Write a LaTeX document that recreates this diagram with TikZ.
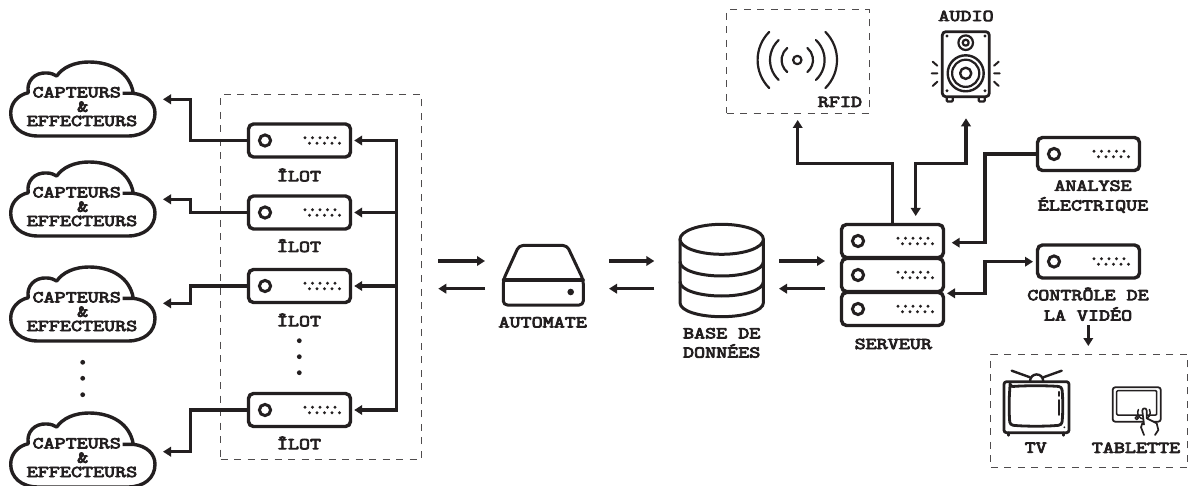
\documentclass[tikz,border=0pt]{standalone}
\usepackage{fontspec}
\usetikzlibrary{arrows.meta}
\newfontfamily\labfont[FakeStretch=1.3,FakeBold=5]{Latin Modern Mono}
\definecolor{ink}{HTML}{231F20}
\tikzset{
  x=1pt,y=-1pt,
  every path/.style={color=ink},
  devbox/.style={draw=ink,fill=white,line width=3.4pt,rounded corners=5pt,minimum width=102pt,minimum height=33pt,inner sep=0pt},
  icon/.style={draw=ink,line width=2.4pt,line join=round,line cap=round},
  thin icon/.style={draw=ink,line width=1.8pt,line join=round,line cap=round},
  wire/.style={draw=ink,line width=3.2pt,line join=miter},
  tip/.tip={Triangle[length=8pt,width=9.5pt]},
  dashbox/.style={draw=ink!80,line width=1pt,dash pattern=on 7pt off 6.5pt},
  lab/.style={text=ink,font=\labfont\fontsize{16.5}{18}\selectfont,inner sep=0pt,align=center},
  cloudtext/.style={lab,fill=white,inner sep=0.5pt},
  dotmark/.style={circle,fill=ink,draw=none,inner sep=0pt,minimum size=4.8pt}
}
\newcommand\device[3]{%
  \node[devbox] (#1) at (#2,#3) {};
  \begin{scope}[shift={(#2,#3)}]
    \draw[line width=3pt,fill=white] (-34.5,0) circle (5.6);
    \foreach \dx in {5.5,13,20.5,28,35.5}{\fill (\dx,-2.8) circle (1.6);}
    \foreach \dx in {10,17.5,25,32.5,40}{\fill (\dx,2.8) circle (1.6);}
  \end{scope}}
\newcommand\cloudshape[4]{%
  \begin{scope}[yshift=#1pt]
    \draw[line width=3.4pt,line join=round,fill=white]
      (122.7,193.3) -- (133.3,193.3) .. controls (147,195) and (155,203) .. (155,213.3)
      .. controls (155,227) and (144,236) .. (128,236) -- (38,236)
      .. controls (21,236) and (10.7,226) .. (10.7,213.3)
      .. controls (10.7,203) and (18,195) .. (28.3,192.7)
      .. controls (26,181) and (35,172) .. (47,173)
      .. controls (51,173) and (54,174.5) .. (56.7,176)
      .. controls (63,167) and (75,162) .. (89,162)
      .. controls (112,162) and (130,173) .. (133.3,193.3);
    \node[cloudtext] (#2) at (76.7,192.3) {CAPTEURS};
    \node[lab] (#3) at (82.7,206.7) {\&};
    \node[lab] (#4) at (82,221) {EFFECTEURS};
  \end{scope}}
\begin{document}
\begin{tikzpicture}
\useasboundingbox (0,0) rectangle (1188,486);
% dashed frames
\node[dashbox,minimum width=201pt,minimum height=364pt,inner sep=0pt] (frameA) at (321,277) {};
\node[dashbox,minimum width=142.5pt,minimum height=103.5pt,inner sep=0pt] (frameB) at (797.8,61.7) {};
\node[dashbox,minimum width=196.5pt,minimum height=113.5pt,inner sep=0pt] (frameC) at (1089.2,411) {};
% clouds
\cloudshape{100}{ca}{cb}{cc}
\cloudshape{0}{da}{db}{dc}
\cloudshape{-105}{ea}{eb}{ec}
\cloudshape{-251}{fa}{fb}{fc}
% islands
\device{i1}{299.5}{140.5}
\device{i2}{299.5}{212.5}
\device{i3}{299.5}{286}
\device{i4}{299.5}{410}
\node[lab] (l1) at (299,175) {ÎLOT};
\node[lab] (l2) at (299,245.7) {ÎLOT};
\node[lab] (l3) at (299,320) {ÎLOT};
\node[lab] (l4) at (299,443) {ÎLOT};
% dots
\foreach \n/\y in {a/362.3,b/378.3,c/394.7}{\node[dotmark] (cd\n) at (82.7,\y) {};}
\foreach \n/\y in {a/340.7,b/356.7,c/372.7}{\node[dotmark] (id\n) at (299.3,\y) {};}
% island to cloud arrows
\coordinate (t1) at (163,99.3);
\coordinate (t2) at (163,199.3);
\coordinate (t3) at (163,303.3);
\coordinate (t4) at (163,451.7);
\coordinate (b0) at (396.7,140.5);
\coordinate (b1) at (396.7,410);
\foreach \i in {1,2,3,4}{
  \draw[wire,-{tip}] (i\i.west) -- (190.7,0|-i\i.west) -- (190.7,0|-t\i) -- (t\i);
}
% bus
\draw[wire,line cap=rect] (b0) -- (b1);
\foreach \i in {1,2,3,4}{
  \draw[wire,-{tip}] (396.7,0|-i\i.east) -- ([xshift=2pt]i\i.east);
}
% central arrows
\foreach \n/\xa/\xb in {p/438.3/485,q/609/654.3,r/779/825}{
  \coordinate (\n a) at (\xa,261); \coordinate (\n b) at (\xb,261);
  \coordinate (\n c) at (\xb,288.7); \coordinate (\n d) at (\xa,288.7);
  \draw[wire,-{tip}] (\n a) -- (\n b);
  \draw[wire,-{tip}] (\n c) -- (\n d);
}
% automate
\draw[icon,line width=3pt,fill=white,rounded corners=4pt] (503.3,280) -- (519,245.5) -- (567,245.5) -- (583.3,280) -- (583.3,305) -- (503.3,305) -- cycle;
\draw[icon,line width=3pt] (503.3,280) -- (583.3,280);
\node[dotmark,minimum size=6.6pt] (autodot) at (570.7,292) {};
\node[lab] (autolab) at (542.7,322.3) {AUTOMATE};
% database
\draw[icon,line width=3pt,fill=white] (680,239.3) -- (680,302.7) .. controls (680,311) and (699,316.7) .. (721.7,316.7) .. controls (744,316.7) and (763.4,311) .. (763.4,302.7) -- (763.4,239.3);
\draw[icon,line width=3pt,fill=white] (721.7,239.3) ellipse (41.7 and 15);
\draw[icon,line width=3pt] (680,261.7) .. controls (680,270) and (699,276) .. (721.7,276) .. controls (744,276) and (763.4,270) .. (763.4,261.7);
\draw[icon,line width=3pt] (680,281.7) .. controls (680,290) and (699,296) .. (721.7,296) .. controls (744,296) and (763.4,290) .. (763.4,281.7);
\node[lab] (dba) at (721.7,333.3) {BASE DE};
\node[lab] (dbb) at (721.7,351) {DONNÉES};
% server
\device{s3}{892.5}{309}
\device{s2}{892.5}{275}
\device{s1}{892.5}{241}
\node[lab] (slab) at (893.3,344) {SERVEUR};
% right devices
\device{an}{1088.5}{154}
\device{vi}{1088.5}{261.5}
\node[lab] (ana) at (1093,185.7) {ANALYSE};
\node[lab] (anb) at (1093,205) {ÉLECTRIQUE};
\node[lab] (via) at (1088,294) {CONTRÔLE DE};
\node[lab] (vib) at (1088,314) {LA VIDÉO};
% connectors right
\coordinate (rfidin) at (797.7,120);
\coordinate (audioout) at (966,118.3);
\coordinate (srvin) at (915.7,216);
\coordinate (anin) at (951.7,242.7);
\coordinate (viin) at (947,293.3);
\coordinate (viout) at (1033,261.7);
\coordinate (tvtop) at (1088.3,325);
\coordinate (tvin) at (1088.3,346);
\draw[wire,-{tip}] (s1.north) -- (892.5,163.3) -- (797.7,163.3) -- (rfidin);
\draw[wire,{tip}-{tip}] (srvin) -- (915.7,163.3) -- (966,163.3) -- (audioout);
\draw[wire,-{tip}] (an.west) -- (985,154) -- (985,242.7) -- (anin);
\draw[wire,{tip}-{tip}] (viin) -- (985,293.3) -- (985,261.7) -- (viout);
\draw[wire,-{tip}] (tvtop) -- (tvin);
% RFID
\begin{scope}[shift={(797.3,60)}]
  \draw[icon,line width=2.2pt] (0,0) circle (4.2);
  \foreach \r/\a in {15.7/50,27.3/47,39.7/45}{
    \draw[icon,line width=2.2pt] (\a:\r) arc (\a:-\a:\r);
    \draw[icon,line width=2.2pt] (180-\a:\r) arc (180-\a:180+\a:\r);
  }
\end{scope}
\node[lab] (rfidlab) at (840,102) {RFID};
% audio
\node[lab] (audiolab) at (966,16) {AUDIO};
\draw[icon,rounded corners=1pt] (946.7,96) rectangle (952.7,101.5);
\draw[icon,rounded corners=1pt] (978.7,96) rectangle (984.7,101.5);
\draw[icon,line width=2.8pt,fill=white,rounded corners=3.5pt] (942.3,31.7) rectangle (989.3,96.7);
\foreach \x/\y in {947/36,985/36,947/90.7,985/90.7}{\fill (\x,\y) circle (1.6);}
\draw[icon,line width=2.2pt] (965.7,42.7) circle (7.3);
\draw[icon,line width=2.2pt] (965.7,42.7) circle (3);
\draw[icon,line width=2.4pt] (965.7,73.3) circle (18);
\draw[icon,line width=2.2pt] (965.7,73.3) circle (13.6);
\draw[icon,line width=2.4pt] (965.7,73.3) circle (5.6);
\draw[icon,line width=2pt] (932.7,61.7) -- (937.3,65.7) (931.7,73.3) -- (937.3,73.3) (932.7,86) -- (937.3,81.7);
\draw[icon,line width=2pt] (998.7,61.7) -- (994.1,65.7) (999.7,73.3) -- (994.1,73.3) (998.7,86) -- (994.1,81.7);
% TV
\draw[icon] (1011.7,370.7) -- (1030,377.3) (1061.7,370.7) -- (1043.3,377.3);
\draw[icon] (1030,381.7) .. controls (1030,372) and (1043.3,372) .. (1043.3,381.7);
\draw[icon,line width=2.4pt] (1008.3,432.7) -- (1008.3,435.5) (1063.3,432.7) -- (1063.3,435.5);
\draw[icon,line width=2.8pt,rounded corners=2.5pt] (1004,381.7) rectangle (1069,432.7);
\draw[icon,line width=2.8pt,rounded corners=3pt] (1010,386.7) .. controls (1025,385.5) and (1047,385.5) .. (1061.7,386.7) .. controls (1063,398) and (1063,414) .. (1061.7,425) .. controls (1047,426.5) and (1025,426.5) .. (1010,425) .. controls (1009,414) and (1009,398) .. (1010,386.7) -- cycle;
\draw[icon,line width=1.6pt] (1058.7,391.7) -- (1058.7,396) (1058.7,400) -- (1058.7,415);
\fill (1064.3,427.3) circle (1);
\node[lab] (tvlab) at (1035.7,447.7) {TV};
% tablet
\draw[thin icon,rounded corners=2.5pt] (1112.7,387.3) rectangle (1160.7,421.7);
\draw[thin icon,line width=1.5pt,rounded corners=1pt] (1116.7,390.7) rectangle (1156.7,415);
\draw[thin icon,line width=1.4pt] (1136.7,418) circle (1.6);
\draw[thin icon,line width=1.5pt] (1138.5,409.5) arc (-150:-390:6.3);
\draw[thin icon,fill=white,line width=1.7pt] (1144,435) -- (1141,427.3) -- (1142.3,423.3) -- (1144,424.5) -- (1142.3,410.7) .. controls (1142.5,407.5) and (1146.5,407.5) .. (1146.7,410.7) -- (1146.7,418.3) -- (1156.7,423.3) -- (1158.3,430) -- (1155,435);
\node[lab] (tablab) at (1136,447.7) {TABLETTE};
\end{tikzpicture}
\end{document}
